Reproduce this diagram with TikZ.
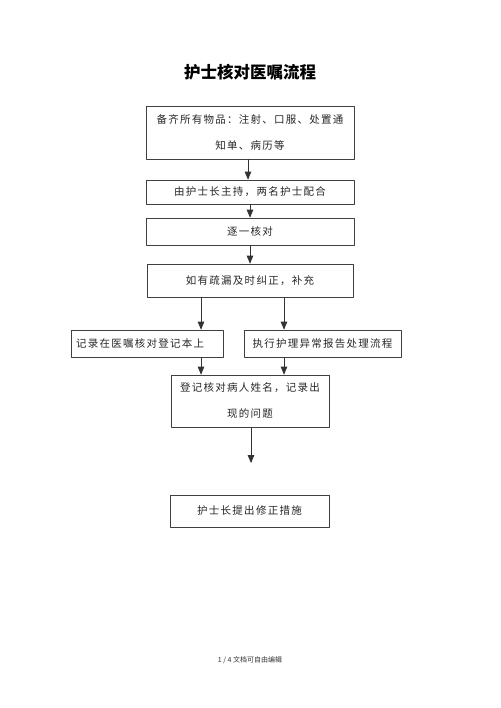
\documentclass[tikz,border=0pt]{standalone}
\usepackage{fontspec}
\usepackage{tikz}
\usetikzlibrary{arrows}
\newfontfamily\cjk[LetterSpace=12]{Noto Sans CJK SC}
\newfontfamily\cjktitle{Noto Sans CJK SC}

\begin{document}
\begin{tikzpicture}[x=1pt,y=-1pt,line cap=round,line join=round,>=triangle 45]
\tikzset{
  stepbox/.style={draw=black!75,line width=0.8,minimum height=#1,inner sep=0pt,
    font=\cjk\fontsize{10.5}{26}\selectfont,text=black!85,align=center},
  arrowline/.style={->,line width=0.8,black!80}
}
\useasboundingbox (0,0) rectangle (500,708);
\node (title) at (250,72) {\cjktitle\bfseries\fontsize{16.5}{18}\selectfont 护士核对医嘱流程};
\node[stepbox=53,minimum width=208] (prepare) at (250,132.5) {备齐所有物品：注射、口服、处置通\\知单、病历等};
\node[stepbox=24,minimum width=208] (chair) at (250,192) {由护士长主持，两名护士配合};
\node[stepbox=27,minimum width=208] (check) at (250,231.5) {逐一核对};
\node[stepbox=33,minimum width=206] (correct) at (250,280.5) {如有疏漏及时纠正，补充};
\node[stepbox=27,minimum width=152,text width=142,align=left] (record) at (147,343.5) {记录在医嘱核对登记本上};
\node[stepbox=27,minimum width=157] (report) at (322.5,343.5) {执行护理异常报告处理流程};
\node[stepbox=52,minimum width=158] (register) at (250,401) {登记核对病人姓名，记录出\\现的问题};
\node[stepbox=32,minimum width=159] (measure) at (249.5,511) {护士长提出修正措施};
\node[font=\cjktitle\fontsize{7}{8}\selectfont,text=black!80] (footer) at (250,660) {1 / 4 文档可自由编辑};
% connectors
\coordinate (lx) at (201,0);
\coordinate (rx) at (284,0);
\coordinate (tip) at (251,463);
\draw[arrowline] (prepare.south -| 248,0) -- (chair.north -| 248,0);
\draw[arrowline] (chair) -- (check);
\draw[arrowline] (check) -- (correct);
\draw[arrowline] (correct.south -| lx) -- (record.north -| lx);
\draw[arrowline] (correct.south -| rx) -- (report.north -| rx);
\draw[arrowline] (record.south -| lx) -- (register.north -| lx);
\draw[arrowline] (report.south -| rx) -- (register.north -| rx);
\draw[arrowline] (register.south -| tip) -- (tip);
\end{tikzpicture}
\end{document}
